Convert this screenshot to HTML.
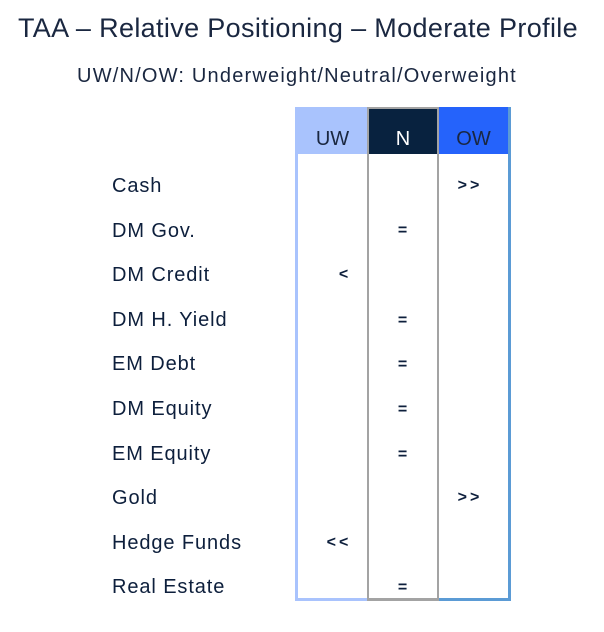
<!DOCTYPE html>
<html><head><style>
body{margin:0;width:604px;height:632px;background:#fff;font-family:"Liberation Sans",sans-serif;color:#0d1f3c;position:relative;overflow:hidden}
.a{position:absolute;white-space:nowrap}
.lbl{left:112px;font-size:20px;letter-spacing:0.9px;color:#0d1f3c}
.sym{font-weight:bold;font-size:16px;letter-spacing:3px;color:#0d1f3c;text-align:center;width:70px}
</style></head><body>
<div class="a" style="left:0;width:596px;text-align:center;top:13px;font-size:27px;letter-spacing:0.35px;color:#1a2740">TAA – Relative Positioning – Moderate Profile</div>
<div class="a" style="left:0;width:594px;text-align:center;top:65px;font-size:20px;letter-spacing:1.2px;color:#1a2740">UW/N/OW: Underweight/Neutral/Overweight</div>

<div class="a" style="left:295px;top:107px;width:74px;height:47px;background:#a9c3fd"></div>
<div class="a" style="left:369px;top:107px;width:70px;height:47px;background:#08223f"></div>
<div class="a" style="left:439px;top:107px;width:70px;height:47px;background:#2563fb"></div>
<div class="a" style="left:295px;top:107px;width:3px;height:494px;background:#a9c3fd"></div>
<div class="a" style="left:295px;top:598px;width:72px;height:3px;background:#a9c3fd"></div>
<div class="a" style="left:367px;top:107px;width:72px;height:494px;border:2px solid #a3a3a3;border-bottom-width:3px;box-sizing:border-box"></div>
<div class="a" style="left:439px;top:598px;width:72px;height:3px;background:#5b9bd5"></div>
<div class="a" style="left:508px;top:107px;width:3px;height:494px;background:#5b9bd5"></div>

<div class="a" style="left:298px;width:69px;text-align:center;top:128px;font-size:20px;color:#1a2740">UW</div>
<div class="a" style="left:369px;width:68px;text-align:center;top:128px;font-size:20px;color:#fff">N</div>
<div class="a" style="left:439px;width:69px;text-align:center;top:128px;font-size:20px;color:#1a2740">OW</div>

<div class="a lbl" style="top:175px">Cash</div>
<div class="a lbl" style="top:220px">DM Gov.</div>
<div class="a lbl" style="top:264px">DM Credit</div>
<div class="a lbl" style="top:309px">DM H. Yield</div>
<div class="a lbl" style="top:353px">EM Debt</div>
<div class="a lbl" style="top:398px">DM Equity</div>
<div class="a lbl" style="top:443px">EM Equity</div>
<div class="a lbl" style="top:487px">Gold</div>
<div class="a lbl" style="top:532px">Hedge Funds</div>
<div class="a lbl" style="top:576px">Real Estate</div>

<div class="a sym" style="left:435px;top:177px">&gt;&gt;</div>
<div class="a sym" style="left:369px;top:222px">=</div>
<div class="a sym" style="left:310px;top:266px">&lt;</div>
<div class="a sym" style="left:369px;top:312px">=</div>
<div class="a sym" style="left:369px;top:356px">=</div>
<div class="a sym" style="left:369px;top:401px">=</div>
<div class="a sym" style="left:369px;top:446px">=</div>
<div class="a sym" style="left:435px;top:489px">&gt;&gt;</div>
<div class="a sym" style="left:304px;top:534px">&lt;&lt;</div>
<div class="a sym" style="left:369px;top:579px">=</div>
</body></html>
